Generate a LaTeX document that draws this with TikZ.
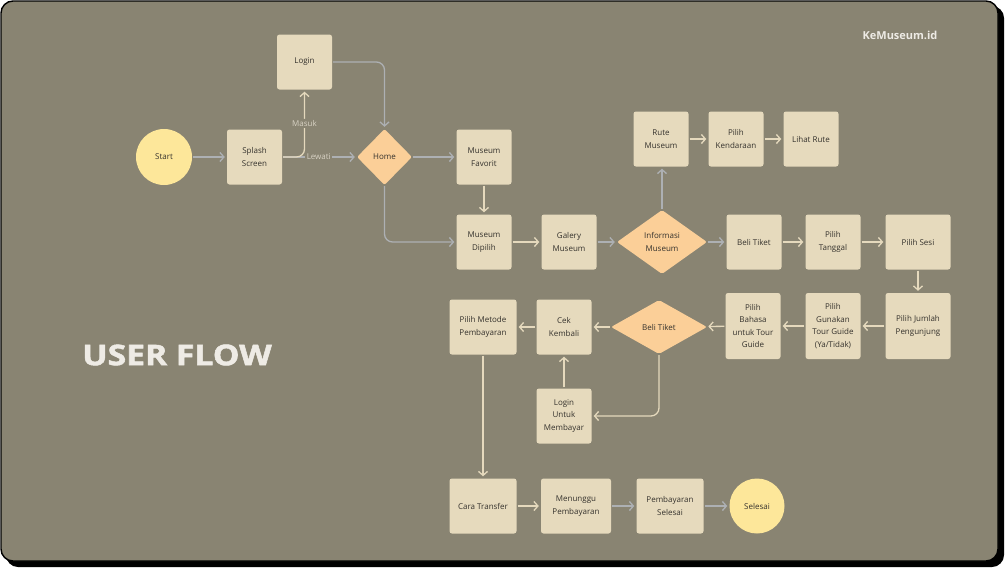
\documentclass[tikz,border=0pt]{standalone}
\usepackage{fontspec}
\setmainfont{Open Sans}
\newfontfamily\titlefont[BoldFeatures={FakeBold=1.6}]{Open Sans}
\usetikzlibrary{shapes.geometric,arrows.meta}
\definecolor{bg}{HTML}{898472}
\definecolor{boxc}{HTML}{E6DABD}
\definecolor{diac}{HTML}{FBCF98}
\definecolor{circc}{HTML}{FDE79A}
\definecolor{creamline}{HTML}{E5D9BD}
\definecolor{grayline}{HTML}{ADB0B3}
\definecolor{txt}{HTML}{35322D}
\definecolor{titlec}{HTML}{EEEBE5}
\definecolor{lblc}{HTML}{D8D2C4}
\begin{document}
\begin{tikzpicture}[x=1pt,y=-1pt,
  lbl/.style={font=\fontsize{8}{12.4}\selectfont, text=txt},
  box/.style={lbl, fill=boxc, rounded corners=2.5pt, minimum width=55pt, minimum height=55pt, align=center, inner sep=1pt},
  dia/.style={lbl, diamond, fill=diac, inner sep=0pt, align=center, rounded corners=2pt},
  circ/.style={lbl, circle, fill=circc, minimum size=56pt, inner sep=0pt},
  cl/.style={draw=creamline, line width=1.3pt, -{Straight Barb[length=4pt,width=9pt]}, shorten >=2pt, shorten <=1pt},
  gl/.style={cl, draw=grayline},
  edgelbl/.style={font=\fontsize{8}{10}\selectfont, text=lblc, fill=bg, inner sep=1.5pt}
]
\useasboundingbox (0,0) rectangle (1005,568);
\fill[black, rounded corners=12pt] (6,6) rectangle (1004,567);
\filldraw[fill=bg, draw=black, line width=1.4pt, rounded corners=12pt] (1,1) rectangle (998,561);

\node[font=\fontsize{11}{13}\selectfont\bfseries, text=titlec] (brand) at (900,35) {KeMuseum.id};
\node[font=\fontsize{28.5}{30}\titlefont\bfseries, text=titlec, xscale=1.18] (title) at (177,355) {USER FLOW};

\node[circ] (start) at (164,157) {Start};
\node[box] (splash) at (254.5,157) {Splash\\Screen};
\node[box] (login) at (304.5,62) {Login};
\node[dia, minimum width=55pt, minimum height=56pt] (home) at (384.5,157) {Home};
\node[box] (fav) at (484,157) {Museum\\Favorit};
\node[box] (dip) at (484,242) {Museum\\Dipilih};
\node[box] (gal) at (569,242) {Galery\\Museum};
\node[dia, aspect=1.4, minimum width=90pt, minimum height=64pt] (info) at (662,242) {Informasi\\Museum};
\node[box] (rute) at (661,139) {Rute\\Museum};
\node[box] (kend) at (736,139) {Pilih\\Kendaraan};
\node[box] (lihat) at (811,139) {Lihat Rute};
\node[box] (beli) at (754,242) {Beli Tiket};
\node[box] (tanggal) at (833,242) {Pilih\\Tanggal};
\node[box, minimum width=65pt] (sesi) at (918,242) {Pilih Sesi};
\node[box, minimum width=65pt, minimum height=66pt] (jumlah) at (918,326) {Pilih Jumlah\\Pengunjung};
\node[box, minimum height=66pt] (gunakan) at (833,326) {Pilih\\Gunakan\\Tour Guide\\(Ya/Tidak)};
\node[box, minimum height=66pt] (bahasa) at (753,326) {Pilih\\Bahasa\\untuk Tour\\Guide};
\node[dia, aspect=1.8, minimum width=96pt, minimum height=54pt] (beli2) at (659,327) {Beli Tiket};
\node[box] (cek) at (564,327) {Cek\\Kembali};
\node[box, minimum width=67pt] (metode) at (483,327) {Pilih Metode\\Pembayaran};
\node[box] (loginbayar) at (564,416) {Login\\Untuk\\Membayar};
\node[box, minimum width=67pt] (cara) at (483,506) {Cara Transfer};
\node[box, minimum width=70pt] (menunggu) at (576,506) {Menunggu\\Pembayaran};
\node[box, minimum width=67pt] (pembsel) at (670,506) {Pembayaran\\Selesai};
\node[circ, minimum size=55pt] (selesai) at (757,506) {Selesai};

\draw[gl] (start) -- (splash);
\draw[gl] (splash.east) -- node[edgelbl, pos=0.49] {Lewati} (home.west);
\draw[cl, rounded corners=8pt] (splash.east) -| node[edgelbl, pos=0.75] {Masuk} (login.south);
\draw[gl, rounded corners=8pt] (login.east) -| (home.north);
\draw[gl] (home) -- (fav);
\draw[gl, rounded corners=8pt] (home.south) |- (dip.west);
\draw[cl] (fav) -- (dip);
\draw[cl] (dip) -- (gal);
\draw[gl] (gal) -- (info);
\draw[gl] (info.north) -- (info.north |- rute.south);
\draw[cl] (rute) -- (kend);
\draw[cl] (kend) -- (lihat);
\draw[gl] (info) -- (beli);
\draw[cl] (beli) -- (tanggal);
\draw[cl] (tanggal) -- (sesi);
\draw[cl] (sesi) -- (jumlah);
\draw[cl] (jumlah) -- (gunakan);
\draw[cl] (gunakan) -- (bahasa);
\draw[cl] (bahasa) -- (beli2);
\draw[cl] (beli2) -- (cek);
\draw[cl] (cek) -- (metode);
\draw[cl, rounded corners=8pt] (beli2.south) |- (loginbayar.east);
\draw[cl] (loginbayar) -- (cek);
\draw[cl] (metode) -- (cara);
\draw[cl] (cara) -- (menunggu);
\draw[gl] (menunggu) -- (pembsel);
\draw[gl] (pembsel) -- (selesai);
\end{tikzpicture}
\end{document}
